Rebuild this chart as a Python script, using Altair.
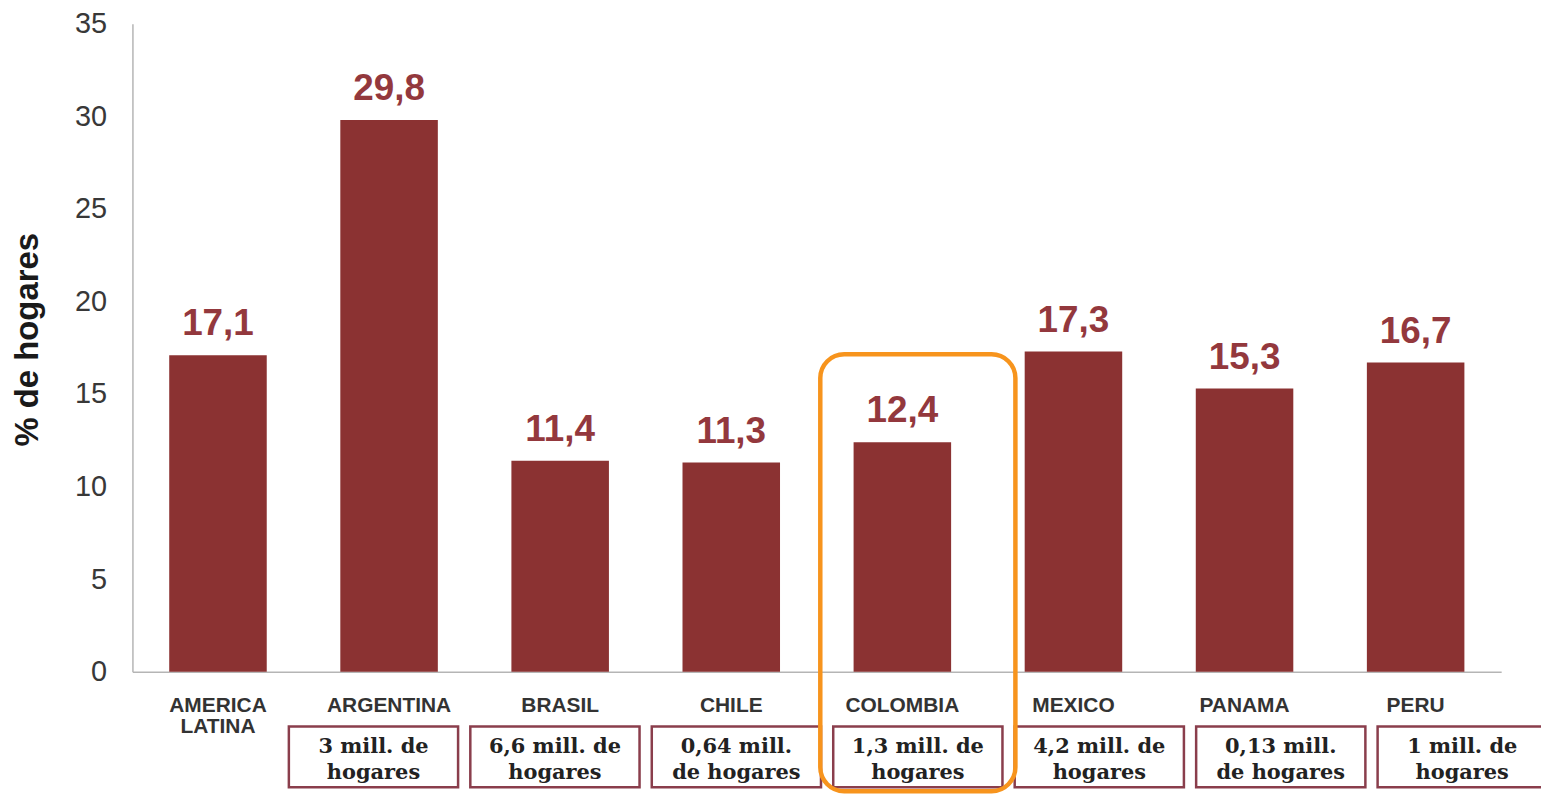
import altair as alt
import pandas as pd

# ---- data ----
categories = ["AMERICA LATINA", "ARGENTINA", "BRASIL", "CHILE", "COLOMBIA", "MEXICO", "PANAMA", "PERU"]
cat_labels = ["AMERICA\nLATINA", "ARGENTINA", "BRASIL", "CHILE", "COLOMBIA", "MEXICO", "PANAMA", "PERU"]
values = [17.1, 29.8, 11.4, 11.3, 12.4, 17.3, 15.3, 16.7]
box_categories = ["ARGENTINA", "BRASIL", "CHILE", "COLOMBIA", "MEXICO", "PANAMA", "PERU"]
box_texts = [
    "3 mill. de\nhogares",
    "6,6 mill. de\nhogares",
    "0,64 mill.\nde hogares",
    "1,3 mill. de\nhogares",
    "4,2 mill. de\nhogares",
    "0,13 mill.\nde hogares",
    "1 mill. de\nhogares",
]
highlight = "COLOMBIA"
y_ticks = [0, 5, 10, 15, 20, 25, 30, 35]
y_title = "% de hogares"

bars_df = pd.DataFrame({
    "cat": categories,
    "label": cat_labels,
    "value": values,
    "text": [f"{v:.1f}".replace(".", ",") for v in values],
})
boxes_df = pd.DataFrame({"cat": box_categories, "text": box_texts})

SANS = "Liberation Sans"
BAR = "#8B3232"
AXIS_GRAY = "#b5b5b5"

x_bar = alt.X(
    "cat:N",
    sort=categories,
    scale=alt.Scale(domain=categories, paddingInner=0.43, paddingOuter=0.215),
    axis=alt.Axis(title=None, labels=False, ticks=False, domain=True,
                  domainColor=AXIS_GRAY, domainWidth=1.5, grid=False),
)
y_enc = alt.Y(
    "value:Q",
    scale=alt.Scale(domain=[0, 35], nice=False, zero=True),
    axis=alt.Axis(
        title=y_title, values=y_ticks, ticks=False, grid=False,
        labelFontSize=29, labelColor="#383838", labelPadding=26, labelFont=SANS,
        domainColor=AXIS_GRAY, domainWidth=1.5,
        titleFontSize=33, titleFont=SANS, titleFontWeight="bold", titleColor="#1a1a1a",
        titleAngle=270, titleX=-95, titleY=317, titleBaseline="alphabetic", titleAlign="center",
    ),
)

base = alt.Chart(bars_df)
bars = base.mark_bar(color=BAR).encode(x=x_bar, y=y_enc)
value_labels = base.mark_text(
    dy=-20, baseline="alphabetic", fontSize=37, fontWeight="bold", color="#93383D", font=SANS
).encode(x=x_bar, y="value:Q", text="text:N")
cat_text = base.mark_text(
    baseline="alphabetic", fontSize=21, fontWeight="bold", color="#333333", font=SANS,
    lineBreak="\n", lineHeight=22,
).encode(x=x_bar, y=alt.value(691), text="label:N")

x_box = alt.X(
    "cat:N",
    sort=box_categories,
    scale=alt.Scale(domain=box_categories, range=[151, 1427], paddingInner=0, paddingOuter=0),
    axis=None,
)
bbase = alt.Chart(boxes_df)
boxes = bbase.mark_bar(width=170, fill="white", stroke="#8A3E4C", strokeWidth=2.5).encode(
    x=x_box, y=alt.value(706), y2=alt.value(767)
)
box_label = bbase.mark_text(
    font="DejaVu Serif", fontWeight="bold", fontSize=21, color="#222222",
    lineBreak="\n", lineHeight=26, baseline="alphabetic",
).encode(x=x_box, y=alt.value(733), text="text:N")
orange = bbase.transform_filter(alt.datum.cat == highlight).mark_bar(
    width=196, fill="white", fillOpacity=0, stroke="#F7941D", strokeWidth=4.5, cornerRadius=24
).encode(x=x_box, y=alt.value(332), y2=alt.value(771))

chart = alt.layer(
    alt.layer(bars, value_labels, cat_text),
    alt.layer(boxes, box_label, orange),
).resolve_scale(x="independent").properties(
    width=1375,
    height=651,
    autosize=alt.AutoSizeParams(type="none"),
    padding={"left": 125, "top": 14, "right": 40, "bottom": 123},
).configure(font=SANS, background="white").configure_view(stroke=None, strokeWidth=0)

chart.save("out.html", embed_options={"renderer": "svg", "actions": False})
